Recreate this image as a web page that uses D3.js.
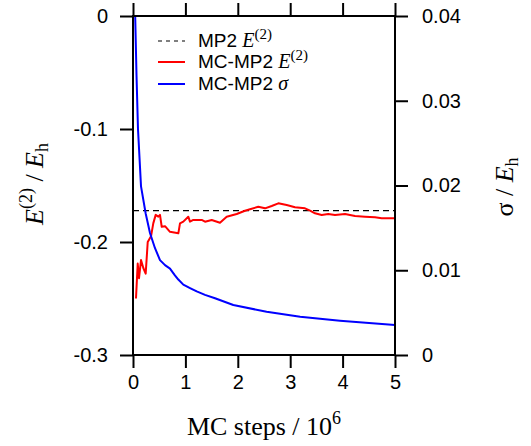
<!DOCTYPE html>
<html><head><meta charset="utf-8">
<script src="https://cdn.jsdelivr.net/npm/d3@7/dist/d3.min.js"></script>
<style>body{margin:0;background:#fff}</style>
</head><body>
<svg id="c" width="531" height="446"></svg>
<script>
const xTicks = [0, 1, 2, 3, 4, 5];
const leftTicks = [0, -0.1, -0.2, -0.3];
const leftTickLabels = ["0", "-0.1", "-0.2", "-0.3"];
const rightTicks = [0, 0.01, 0.02, 0.03, 0.04];
const rightTickLabels = ["0", "0.01", "0.02", "0.03", "0.04"];
const mp2Reference = -0.1723;
const mcSteps = [0.057,0.090,0.115,0.153,0.197,0.242,0.281,0.344,0.387,0.433,0.483,0.515,0.548,0.611,0.706,0.865,0.897,0.960,1.055,1.088,1.151,1.311,1.374,1.502,1.660,1.788,1.979,2.137,2.233,2.391,2.519,2.647,2.773,2.933,3.092,3.282,3.378,3.473,3.601,3.727,3.855,4.046,4.237,4.427,4.618,4.746,4.937,5.0];
const mcEnergy = [-0.250,-0.219,-0.232,-0.216,-0.223,-0.228,-0.200,-0.195,-0.1835,-0.176,-0.1776,-0.176,-0.1865,-0.186,-0.191,-0.1923,-0.1835,-0.182,-0.1776,-0.182,-0.1805,-0.1805,-0.182,-0.1805,-0.1829,-0.1776,-0.1752,-0.1723,-0.171,-0.1688,-0.1702,-0.1681,-0.1658,-0.1673,-0.1693,-0.1702,-0.1723,-0.1746,-0.1761,-0.1752,-0.1761,-0.1752,-0.177,-0.1776,-0.1782,-0.179,-0.179,-0.179];
const sigmaSteps = [0.040,0.067,0.095,0.153,0.242,0.324,0.42,0.515,0.611,0.706,0.80,0.865,0.96,1.088,1.216,1.374,1.565,1.914,2.55,3.19,3.95,5.0];
const sigmaValues = [0.0405,0.033,0.0267,0.0199,0.0167,0.0144,0.0126,0.0112,0.0106,0.0102,0.0094,0.0089,0.0083,0.0079,0.0075,0.0071,0.0067,0.0059,0.0051,0.00452,0.00405,0.00354];

const svg = d3.select("#c");
const L = 133, R = 395, T = 16, B = 355;
const x = d3.scaleLinear().domain([0, 5]).range([L, R]);
const yL = d3.scaleLinear().domain([-0.3, 0]).range([B, T]);
const yR = d3.scaleLinear().domain([0, 0.04]).range([B, T]);
const sans = "Liberation Sans, Arial, Helvetica, sans-serif";
const serif = "Liberation Serif, Times New Roman, serif";

svg.append("defs").append("clipPath").attr("id", "clip")
  .append("rect").attr("x", L).attr("y", T).attr("width", R - L).attr("height", B - T);

function styleAxis(g) {
  g.select(".domain").remove();
  g.selectAll(".tick line").attr("stroke", "#000").attr("stroke-width", 2);
  g.selectAll(".tick text").attr("font-family", sans).attr("font-size", 20).attr("fill", "#000");
}

svg.append("g").attr("transform", `translate(0,${B})`)
  .call(d3.axisBottom(x).tickValues(xTicks).tickSize(13).tickPadding(7).tickFormat(d3.format("d")))
  .call(styleAxis);
svg.append("g").attr("transform", `translate(0,${T})`)
  .call(d3.axisTop(x).tickValues(xTicks).tickSize(13).tickFormat(""))
  .call(styleAxis);
svg.append("g").attr("transform", `translate(${L},0)`)
  .call(d3.axisLeft(yL).tickValues(leftTicks).tickSize(13).tickPadding(12).tickFormat((d, i) => leftTickLabels[i]))
  .call(styleAxis);
svg.append("g").attr("transform", `translate(${R},0)`)
  .call(d3.axisRight(yR).tickValues(rightTicks).tickSize(13).tickPadding(14).tickFormat((d, i) => rightTickLabels[i]))
  .call(styleAxis);

// reference dashed line
svg.append("line").attr("x1", x(0)).attr("x2", x(5)).attr("y1", yL(mp2Reference)).attr("y2", yL(mp2Reference))
  .attr("stroke", "#000").attr("stroke-width", 1.2).attr("stroke-dasharray", "6,4");

const plot = svg.append("g").attr("clip-path", "url(#clip)");
const eData = mcSteps.map((s, i) => [s, mcEnergy[i]]);
const sData = sigmaSteps.map((s, i) => [s, sigmaValues[i]]);
plot.append("path").datum(eData)
  .attr("d", d3.line().x(d => x(d[0])).y(d => yL(d[1])))
  .attr("fill", "none").attr("stroke", "#ff0000").attr("stroke-width", 2).attr("stroke-linejoin", "round");
plot.append("path").datum(sData)
  .attr("d", d3.line().x(d => x(d[0])).y(d => yR(d[1])))
  .attr("fill", "none").attr("stroke", "#0000ff").attr("stroke-width", 2).attr("stroke-linejoin", "round");

// frame
svg.append("rect").attr("x", L).attr("y", T).attr("width", R - L).attr("height", B - T)
  .attr("fill", "none").attr("stroke", "#000").attr("stroke-width", 2);

// legend
const legend = [
  {dash: "4,4", color: "#000", width: 1.2, y: 41, parts: [["MP2 ", sans, "normal", 0, 19], ["E", serif, "italic", 0, 20], ["(2)", serif, "normal", -8, 15]]},
  {dash: null, color: "#ff0000", width: 2, y: 62, parts: [["MC-MP2 ", sans, "normal", 0, 19], ["E", serif, "italic", 0, 20], ["(2)", serif, "normal", -8, 15]]},
  {dash: null, color: "#0000ff", width: 2, y: 84, parts: [["MC-MP2 ", sans, "normal", 0, 19], ["σ", serif, "italic", 0, 20]]}
];
legend.forEach(item => {
  const ln = svg.append("line").attr("x1", 158).attr("x2", 185).attr("y1", item.y).attr("y2", item.y)
    .attr("stroke", item.color).attr("stroke-width", item.width);
  if (item.dash) ln.attr("stroke-dasharray", item.dash);
  const t = svg.append("text").attr("x", 198).attr("y", item.y + 6).attr("fill", "#000");
  let prev = 0;
  item.parts.forEach(p => {
    t.append("tspan").text(p[0]).attr("font-family", p[1]).attr("font-style", p[2])
      .attr("font-size", p[4]).attr("dy", p[3] - prev);
    prev = p[3];
  });
});

// x title
const xt = svg.append("text").attr("x", 264).attr("y", 435).attr("text-anchor", "middle")
  .attr("font-family", serif).attr("font-size", 26).attr("fill", "#000");
xt.append("tspan").text("MC steps / 10");
xt.append("tspan").text("6").attr("font-size", 18).attr("dy", -11);

// left y title
const yt = svg.append("text").attr("transform", "translate(43,184) rotate(-90)").attr("text-anchor", "middle")
  .attr("font-family", serif).attr("font-size", 26).attr("fill", "#000");
yt.append("tspan").text("E").attr("font-style", "italic");
yt.append("tspan").text("(2)").attr("font-size", 18).attr("dy", -11);
yt.append("tspan").text(" / ").attr("dy", 11);
yt.append("tspan").text("E").attr("font-style", "italic");
yt.append("tspan").text("h").attr("font-size", 18).attr("dy", 5);

// right y title
const yr = svg.append("text").attr("transform", "translate(513,187) rotate(-90)").attr("text-anchor", "middle")
  .attr("font-family", serif).attr("font-size", 26).attr("fill", "#000");
yr.append("tspan").text("σ");
yr.append("tspan").text(" / ");
yr.append("tspan").text("E").attr("font-style", "italic");
yr.append("tspan").text("h").attr("font-size", 18).attr("dy", 5);
</script>
</body></html>
